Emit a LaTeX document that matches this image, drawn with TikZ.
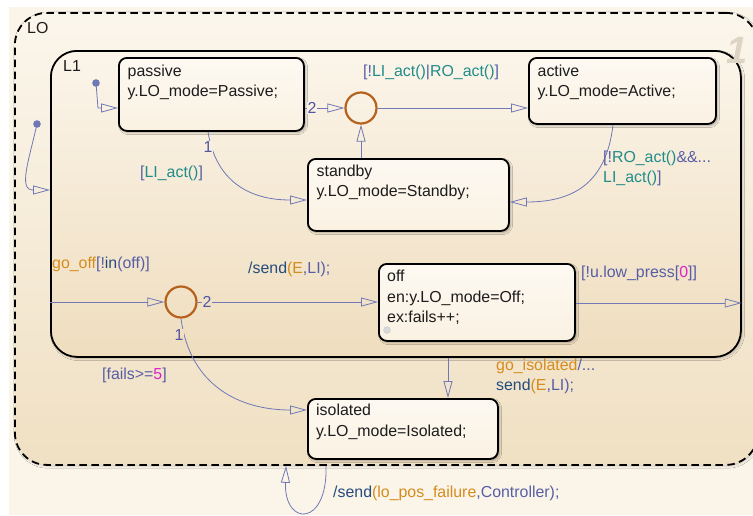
\documentclass[tikz,border=0pt]{standalone}
\usepackage{fontspec}
\setmainfont{Liberation Sans}
\usetikzlibrary{arrows.meta,shadows,shadows.blur}

% palette
\definecolor{pagebg}{HTML}{FAF4E9}
\definecolor{lotop}{HTML}{FBF6EC}
\definecolor{lobot}{HTML}{F0E0C3}
\definecolor{lonetop}{HTML}{FBF5EA}
\definecolor{lonebot}{HTML}{EFDDBE}
\definecolor{sttop}{HTML}{FDF9F2}
\definecolor{stbot}{HTML}{FAF1E2}
\definecolor{conn}{RGB}{112,120,182}
\definecolor{juncc}{RGB}{182,98,28}
\definecolor{cbr}{RGB}{88,94,166}
\definecolor{cteal}{RGB}{32,140,138}
\definecolor{corange}{RGB}{214,140,28}
\definecolor{cdark}{RGB}{38,76,124}
\definecolor{cmag}{RGB}{222,34,200}
\definecolor{numc}{RGB}{80,86,160}
\definecolor{txtc}{HTML}{1C1C1C}
\definecolor{prio}{HTML}{DDD4C4}

\newcommand{\colB}[1]{\textcolor{cbr}{#1}}
\newcommand{\colT}[1]{\textcolor{cteal}{#1}}
\newcommand{\colO}[1]{\textcolor{corange}{#1}}
\newcommand{\colD}[1]{\textcolor{cdark}{#1}}
\newcommand{\colM}[1]{\textcolor{cmag}{#1}}

\begin{document}
\begin{tikzpicture}[x=1pt, y=-1pt,
  font=\fontsize{15.9}{20}\selectfont,
  box/.style={draw=black, line width=1.8pt, inner sep=0pt, anchor=north west},
  statebox/.style={box, rounded corners=8pt, top color=sttop, bottom color=stbot,
    blur shadow={shadow xshift=1.6pt, shadow yshift=-1.6pt, shadow blur steps=4, shadow opacity=35}},
  stxt/.style={anchor=base west, inner sep=0pt, text=txtc},
  lab/.style={anchor=base west, inner sep=0pt, text=cbr},
  tr/.style={draw=conn, line width=0.8pt,
    -{Triangle[open, length=17pt, width=9pt, line width=0.8pt]}},
  junc/.style={circle, draw=juncc, line width=2.2pt, minimum size=31pt, inner sep=0pt},
  num/.style={text=numc, inner sep=0.8pt},
  dot/.style={fill=conn}
]
\useasboundingbox (0,0) rectangle (753,515);
\clip (0,0) rectangle (753,515);
\fill[pagebg] (9,7) rectangle (753,515);

% outer chart LO
\node[box, dashed, dash pattern=on 7.5pt off 4.5pt, rounded corners=32pt,
  minimum width=743pt, minimum height=452pt, top color=lotop, bottom color=lobot,
  blur shadow={shadow xshift=1.2pt, shadow yshift=-1.2pt, shadow blur steps=4, shadow opacity=18}]
  (LO) at (14,12) {};
\node[stxt] at (27,33) {LO};

% substate L1
\node[box, rounded corners=26pt, minimum width=690pt, minimum height=306pt,
  top color=lonetop, bottom color=lonebot,
  blur shadow={shadow xshift=1.6pt, shadow yshift=-1.6pt, shadow blur steps=5, shadow opacity=22}]
  (L1) at (50,50) {};
\node[stxt] at (63,71) {L1};

% execution order mark
\node[text=prio, font=\fontsize{38}{38}\selectfont\bfseries\itshape, inner sep=0pt] at (737,50) {1};

% states
\node[statebox, minimum width=185pt, minimum height=73pt] (passive) at (118,57) {};
\node[stxt] at (127.5,76) {passive};
\node[stxt] at (127.5,96) {y.LO\_mode=Passive;};

\node[statebox, minimum width=187pt, minimum height=66pt] (active) at (528,57) {};
\node[stxt] at (537.5,76) {active};
\node[stxt] at (537.5,96) {y.LO\_mode=Active;};

\node[statebox, minimum width=201pt, minimum height=72pt] (standby) at (307,158) {};
\node[stxt] at (316.5,176) {standby};
\node[stxt] at (316.5,196) {y.LO\_mode=Standby;};

\node[statebox, minimum width=196pt, minimum height=77pt] (off) at (378,263) {};
\node[stxt] at (387,281) {off};
\node[stxt] at (387,302) {en:y.LO\_mode=Off;};
\node[stxt] at (387,322) {ex:fails++;};
\fill[gray!30, draw=gray!45, line width=0.4pt] (387,330) circle (3.4pt);

\node[statebox, minimum width=190pt, minimum height=60pt] (isolated) at (307,398) {};
\node[stxt] at (316,415) {isolated};
\node[stxt] at (316,436) {y.LO\_mode=Isolated;};

% junctions
\node[junc] (J1) at (361,108) {};
\node[junc] (J2) at (181,302) {};

% default transitions
\coordinate (loinit) at (37,124);
\draw[tr] (loinit) .. controls (29,160) and (18,190) .. (33,190) -- (L1.west |- 0,190);
\fill[dot] (loinit) circle (3.8pt);

\coordinate (pinit) at (96,83);
\draw[tr] (pinit) -- (98,108) -- (passive.west |- 0,108);
\fill[dot] (pinit) circle (3.8pt);

% transitions inside L1
\draw[tr] (passive.east |- J1) -- (J1);
\node[num, fill=lonetop!85!lonebot] at (312,108) {2};
\draw[tr] (J1) -- (active.west |- J1);
\draw[tr] (standby.north -| J1) -- (J1);

\draw[tr] (passive.south -| 208,0) .. controls (216,182) and (250,200) .. (standby.west |- 0,200);
\node[num, fill=lonetop!75!lonebot] at (208,147) {1};

\draw[tr] (active.south -| 613,0) .. controls (606,186) and (570,202) .. (standby.east |- 0,202);

\draw[tr] (L1.west |- J2) -- (J2);
\draw[tr] (J2) -- (off.west |- J2);
\node[num, fill=lonetop!20!lonebot] at (207,302) {2};
\draw[tr] (J2.south) .. controls (190,386) and (240,410) .. (isolated.west |- 0,410);
\node[num, fill=lonetop!10!lonebot] at (179,335) {1};

\draw[tr] (off.east |- 0,303) -- (L1.east |- 0,303);
\draw[tr] (L1.south -| 448,0) -- (isolated.north -| 448,0);

% self loop on LO
\draw[tr] (LO.south -| 326,0) .. controls (328,527) and (284,527) .. (LO.south -| 286,0);

% transition labels
\node[lab] at (363,76) {\colB{[!}\colT{LI\_act()}\colB{|}\colT{RO\_act()}\colB{]}};
\node[lab] at (140,177) {\colB{[}\colT{LI\_act()}\colB{]}};
\node[lab] at (603,162) {\colB{[!}\colT{RO\_act()}\colB{\&\&...}};
\node[lab] at (603,182) {\colT{LI\_act()}\colB{]}};
\node[lab] at (52,268) {\colO{go\_off}\colB{[!}\colD{in}\colB{(off)]}};
\node[lab] at (248,273) {\colD{/send}\colO{(E}\colB{,LI);}};
\node[lab] at (581,277) {\colB{[!u.low\_press[}\colM{0}\colB{]]}};
\node[lab] at (496,370) {\colO{go\_isolated}\colB{/...}};
\node[lab] at (496,390) {\colD{send}\colO{(E}\colB{,LI);}};
\node[lab] at (102,379) {\colB{[fails>=}\colM{5}\colB{]}};
\node[lab] at (333,497) {\colD{/send}\colO{(lo\_pos\_failure}\colB{,Controller);}};
\end{tikzpicture}
\end{document}
